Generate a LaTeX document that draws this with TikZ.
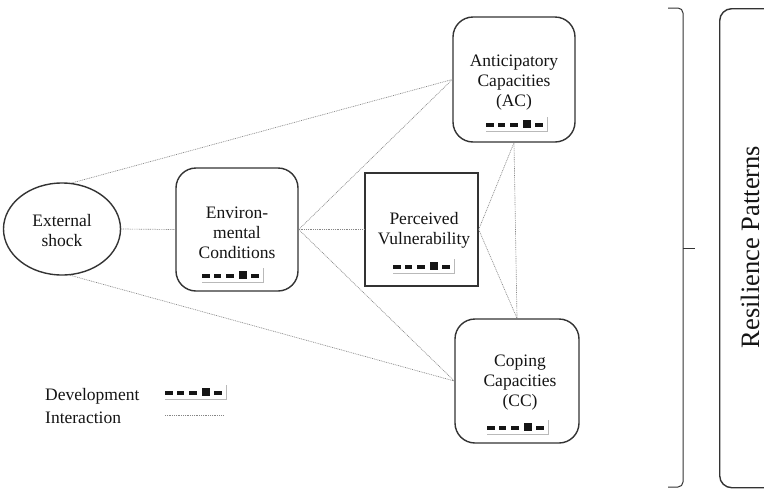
\documentclass[tikz,border=0pt]{standalone}
\usepackage{fontspec}
\setmainfont{Liberation Serif}
\usetikzlibrary{shapes.geometric}
\definecolor{linec}{HTML}{333333}
\definecolor{txt}{HTML}{151515}
\begin{document}
\begin{tikzpicture}[x=1pt,y=-1pt,
  box/.style={draw=linec, line width=1.4pt, inner sep=0pt},
  rbox/.style={box, rounded corners=20pt},
  inter/.style={draw=gray!95, dash pattern=on 0.9pt off 0.9pt, line width=0.65pt},
  lbl/.style={align=center, font=\fontsize{17.5}{20}\selectfont, text=txt, inner sep=0pt},
  devbar/.pic={
    \fill[txt] (0,-1.6) rectangle (7.7,1.6);
    \fill[txt] (11.7,-1.6) rectangle (19.3,1.6);
    \fill[txt] (24,-1.6) rectangle (31.7,1.6);
    \fill[txt] (36.7,-5) rectangle (45,2.6);
    \fill[txt] (48.7,-1.6) rectangle (56.7,1.6);
    \draw[gray!55, line width=0.7pt] (0,6) -- (61.5,6) -- (61.5,-8);
  }
]
\useasboundingbox (0,0) rectangle (764,488);
\clip (0,0) rectangle (764,488);
\fill[white] (0,0) rectangle (764,488);

% nodes
\node[box, ellipse, minimum width=117pt, minimum height=92pt] (shock) at (62,229) {};
\node[lbl] (shockt) at (62,231) {External\\shock};

\node[rbox, minimum width=122pt, minimum height=123pt] (env) at (237,229.5) {};
\node[lbl] (envt) at (237,233) {Environ-\\mental\\Conditions};
\pic at (202,276) {devbar};

\node[box, minimum width=113pt, minimum height=113pt] (pv) at (421.5,229.5) {};
\node[lbl] (pvt) at (424,230) {Perceived\\Vulnerability};
\pic at (393,267) {devbar};

\node[rbox, minimum width=122pt, minimum height=125pt] (ac) at (514,79.5) {};
\node[lbl] (act) at (514,83) {Anticipatory\\Capacities\\(AC)};
\pic at (486,125) {devbar};

\node[rbox, minimum width=124pt, minimum height=124pt] (cc) at (517,381) {};
\node[lbl] (cct) at (520,383) {Coping\\Capacities\\(CC)};
\pic at (487,428) {devbar};

% connectors
\draw[inter] (shock.east) -- (env.west);
\draw[inter] (shock.78) -- (ac.west);
\draw[inter] (shock.-80) -- (cc.west);
\draw[inter] (env.east) -- (ac.west);
\draw[inter] (env.east) -- (pv.west);
\draw[inter] (env.east) -- (cc.west);
\draw[inter] (pv.east) -- (ac.south);
\draw[inter] (pv.east) -- (cc.north);
\draw[inter] (ac.south) -- (cc.north);

% legend
\node[lbl, anchor=west] (ldev) at (45,396) {Development};
\node[lbl, anchor=west] (lint) at (45,418) {Interaction};
\pic at (165,393) {devbar};
\coordinate (i1) at (165,415);
\coordinate (i2) at (223,415);
\draw[inter] (i1) -- (i2);

% brace
\draw[linec, line width=1pt, rounded corners=5pt] (668,8) -- (683,8) -- (683,487) -- (668,487);
\coordinate (tipa) at (683,248);
\coordinate (tipb) at (695,248);
\draw[linec, line width=1pt] (tipa) -- (tipb);

% resilience patterns
\node[box, rounded corners=12pt, minimum width=90pt, minimum height=479pt, anchor=north west] (rp) at (719,8) {};
\node[lbl, font=\fontsize{26.5}{30}\selectfont, rotate=90] (rpt) at (750,247) {Resilience Patterns};
\end{tikzpicture}
\end{document}
